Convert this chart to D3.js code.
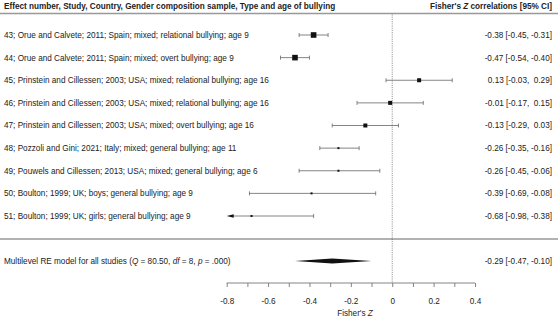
<!DOCTYPE html>
<html><head><meta charset="utf-8">
<script src="https://cdn.jsdelivr.net/npm/d3@7"></script>
<style>body{margin:0;background:#fff}svg{display:block;font-family:"Liberation Sans",Arial,sans-serif}</style>
</head><body>
<script>
const labels = [
  "43; Orue and Calvete; 2011; Spain; mixed; relational bullying; age 9",
  "44; Orue and Calvete; 2011; Spain; mixed; overt bullying; age 9",
  "45; Prinstein and Cillessen; 2003; USA; mixed; relational bullying; age 16",
  "46; Prinstein and Cillessen; 2003; USA; mixed; relational bullying; age 16",
  "47; Prinstein and Cillessen; 2003; USA; mixed; overt bullying; age 16",
  "48; Pozzoli and Gini; 2021; Italy; mixed; general bullying; age 11",
  "49; Pouwels and Cillessen; 2013; USA; mixed; general bullying; age 6",
  "50; Boulton; 1999; UK; boys; general bullying; age 9",
  "51; Boulton; 1999; UK; girls; general bullying; age 9"
];
const est   = [-0.38, -0.47, 0.13, -0.01, -0.13, -0.26, -0.26, -0.39, -0.68];
const lower = [-0.45, -0.54, -0.03, -0.17, -0.29, -0.35, -0.45, -0.69, -0.98];
const upper = [-0.31, -0.40, 0.29, 0.15, 0.03, -0.16, -0.06, -0.08, -0.38];
const weights = [3, 3, 2, 2, 2, 1, 1, 1, 1];
const summary = {est: -0.29, lower: -0.47, upper: -0.10};
const tickValues = [-0.8,-0.7,-0.6,-0.5,-0.4,-0.3,-0.2,-0.1,0,0.1,0.2,0.3,0.4];
const tickLabels = [-0.8,-0.6,-0.4,-0.2,0,0.2,0.4];

const W = 558, H = 318;
const svg = d3.select("body").append("svg").attr("width", W).attr("height", H);
const x = d3.scaleLinear().domain([-0.8, 0.4]).range([226.7, 475]);
const y = d3.scaleLinear().domain([0, 8]).range([35, 216]);
const fs = 8.2;
const ink = "#222";
const fmt = v => (v < 0 ? "-" : "") + Math.abs(v).toFixed(2);
const fmtCI = v => (v < 0 ? "-" : " ") + Math.abs(v).toFixed(2);

// header
svg.append("text").attr("x", 4).attr("y", 8.8).attr("font-size", fs).attr("font-weight", "bold").attr("fill", ink)
  .text("Effect number, Study, Country, Gender composition sample, Type and age of bullying");
const hr = svg.append("text").attr("x", 552).attr("y", 8.8).attr("font-size", fs).attr("font-weight", "bold").attr("fill", ink).attr("text-anchor", "end");
hr.append("tspan").text("Fisher's ");
hr.append("tspan").attr("font-style", "italic").text("Z");
hr.append("tspan").text(" correlations [95% CI]");

// separators
[13.5, 239].forEach(yy => svg.append("line").attr("x1", 0).attr("x2", W).attr("y1", yy).attr("y2", yy).attr("stroke", "#999").attr("stroke-width", 1.4));

// reference line
svg.append("line").attr("x1", x(0)).attr("x2", x(0)).attr("y1", 14.5).attr("y2", 283)
  .attr("stroke", "#555").attr("stroke-width", 0.7).attr("stroke-dasharray", "1,1.2");

// rows
const rows = svg.selectAll("g.row").data(labels).join("g").attr("class", "row")
  .attr("transform", (d, i) => `translate(0,${y(i)})`);
rows.append("text").attr("x", 4).attr("y", 2.9).attr("font-size", fs).attr("fill", ink).text(d => d);
rows.append("text").attr("x", 552).attr("y", 2.9).attr("font-size", fs).attr("fill", ink).attr("text-anchor", "end")
  .attr("xml:space", "preserve").style("white-space", "pre")
  .text((d, i) => `${fmt(est[i])} [${fmt(lower[i])}, ${fmtCI(upper[i])}]`);

rows.each(function(d, i) {
  const g = d3.select(this);
  const lo = Math.max(lower[i], -0.8), hi = Math.min(upper[i], 0.4);
  const clippedLo = lower[i] < -0.8;
  g.append("line").attr("x1", x(lo) + (clippedLo ? 4 : 0)).attr("x2", x(hi)).attr("y1", 0).attr("y2", 0).attr("stroke", "#666").attr("stroke-width", 0.8);
  if (!clippedLo) g.append("line").attr("x1", x(lo)).attr("x2", x(lo)).attr("y1", -2).attr("y2", 2).attr("stroke", "#666").attr("stroke-width", 0.8);
  else g.append("path").attr("d", `M${x(-0.8)},0 L${x(-0.8) + 7},-1.8 L${x(-0.8) + 7},1.8 Z`).attr("fill", "#111");
  g.append("line").attr("x1", x(hi)).attr("x2", x(hi)).attr("y1", -2).attr("y2", 2).attr("stroke", "#666").attr("stroke-width", 0.8);
  const s = [0, 2, 4, 5.6][weights[i]];
  g.append("rect").attr("x", x(est[i]) - s / 2).attr("y", -s / 2).attr("width", s).attr("height", s).attr("fill", "#111");
});

// summary
const ys = 261;
const st = svg.append("text").attr("x", 4).attr("y", ys + 2.9).attr("font-size", fs).attr("fill", ink);
st.append("tspan").text("Multilevel RE model for all studies (");
st.append("tspan").attr("font-style", "italic").text("Q");
st.append("tspan").text(" = 80.50, ");
st.append("tspan").attr("font-style", "italic").text("df");
st.append("tspan").text(" = 8, ");
st.append("tspan").attr("font-style", "italic").text("p");
st.append("tspan").text(" = .000)");
svg.append("text").attr("x", 552).attr("y", ys + 2.9).attr("font-size", fs).attr("fill", ink).attr("text-anchor", "end")
  .text(`${fmt(summary.est)} [${fmt(summary.lower)}, ${fmt(summary.upper)}]`);
svg.append("path").attr("d", `M${x(summary.lower)},${ys} L${x(summary.est)},${ys - 2.6} L${x(summary.upper)},${ys} L${x(summary.est)},${ys + 2.6} Z`).attr("fill", "#111");

// axis
const axis = d3.axisBottom(x).tickValues(tickValues).tickSize(4)
  .tickFormat(v => tickLabels.some(t => Math.abs(t - v) < 1e-9) ? (Math.abs(v) < 1e-9 ? "0" : d3.format("")(+v.toFixed(1))) : "");
const ag = svg.append("g").attr("transform", "translate(0,283)").call(axis);
ag.select(".domain").attr("stroke", "#777").attr("stroke-width", 0.9).attr("d", `M${x(-0.8)},0H${x(0.4)}`);
ag.selectAll(".tick line").attr("stroke", "#777").attr("stroke-width", 0.9);
ag.selectAll(".tick text").attr("font-size", fs).attr("fill", ink).attr("dy", null).attr("y", 21).attr("font-family", '"Liberation Sans",Arial,sans-serif')
  .text(function() { return d3.select(this).text().replace("−", "-"); });
const xl = svg.append("text").attr("x", x(-0.18)).attr("y", 316).attr("font-size", fs).attr("fill", ink).attr("text-anchor", "middle");
xl.append("tspan").text("Fisher's ");
xl.append("tspan").attr("font-style", "italic").text("Z");
</script>
</body></html>
